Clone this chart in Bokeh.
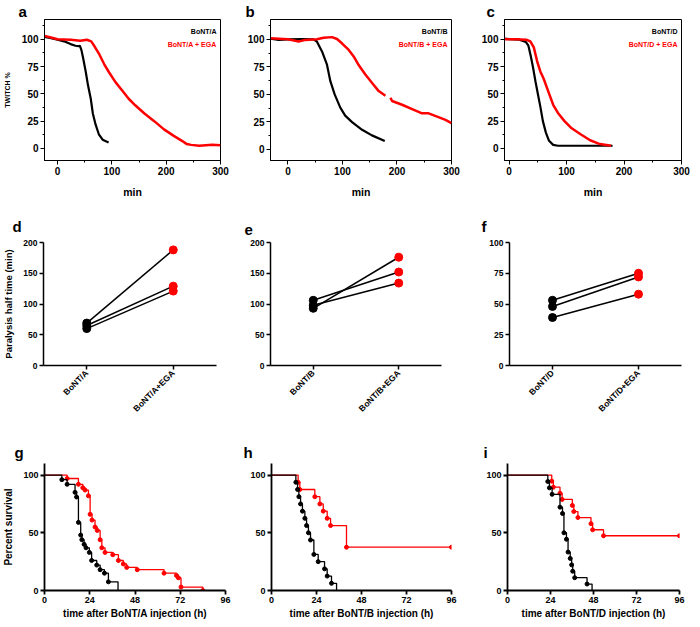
import math
from bokeh.plotting import figure
from bokeh.layouts import column, row
from bokeh.models import Range1d, FactorRange, SingleIntervalTicker, FixedTicker, Label, Title
from bokeh.embed import file_html
from bokeh.resources import INLINE

FONT = "Liberation Sans"
RED = "#ff0000"
BLACK = "#000000"
NaN = float("nan")

# ---------------- Row 1: twitch % vs time (min) ----------------
a_black_t = [-24, -12, 0, 12, 24, 33, 39, 41, 44, 47, 52, 56, 61, 65, 70, 76, 83, 94]
a_black_y = [102, 101, 99.5, 98, 95.5, 94, 93.5, 94, 90, 83, 70, 58, 46, 32, 22, 13, 8, 5.5]
a_red_t = [-24, -12, 0, 24, 42, 54, 62, 68, 77, 86, 95, 107, 119, 131, 143, 160, 178, 196, 214, 229, 238, 246, 261, 285, 300]
a_red_y = [103, 101.5, 100, 99.5, 98.5, 99.5, 98, 93.5, 86, 77, 69.5, 60.5, 53, 45.5, 39.5, 32, 25, 17.5, 11.5, 7, 4, 3.3, 2.5, 3.3, 3]

b_black_t = [-32, -17, 0, 26, 47, 53, 62.5, 71.6, 77.8, 85.7, 96, 105, 117.6, 136, 154, 177.6]
b_black_y = [100.5, 99.5, 100, 100.3, 100, 98, 89, 77, 62, 50, 38, 30.7, 24.8, 17.9, 12.8, 7.8]
b_red_t = [-32, 0, 19.6, 32, 53, 65.5, 80.8, 90, 99, 111.5, 120.6, 130, 142, 154, 166.5, 178.8, NaN,
           188, 191, 209.4, 227.8, 246, 258, 273.7, 289, 300]
b_red_y = [101, 100, 98, 99.5, 100, 101.5, 102, 100.3, 96.4, 90.4, 84.5, 76.4, 68, 60.6, 53, 48.7, NaN,
           47, 44, 40.6, 36.7, 32.8, 32.8, 29.9, 26.9, 24]

c_black_t = [-8, 0, 18, 29, 33.6, 37.5, 41.5, 46, 50.4, 54.3, 58.8, 64, 69.5, 76.7, 85, 120, 150, 180]
c_black_y = [100.5, 100, 99.5, 97.5, 94, 85, 74.5, 61, 49, 38.5, 25, 14.5, 7, 3.3, 2.5, 2.5, 2.5, 2.5]
c_red_t = [-8, 12, 30, 37, 43, 48.7, 54.3, 60, 68.3, 76.7, 85, 96.4, 107.6, 124.4, 141, 158, 177.6]
c_red_y = [100, 100, 99.5, 98, 92.5, 80, 70.5, 64, 52, 40, 32.5, 25, 19, 13, 7.5, 4, 2.5]

# ---------------- Row 2: paralysis half time (min) ----------------
d_cats = ["BoNT/A", "BoNT/A+EGA"]
d_before = [69, 65, 60]
d_after = [188, 129, 121]
e_cats = ["BoNT/B", "BoNT/B+EGA"]
e_before = [93, 106, 98]
e_after = [176, 152, 134]
f_cats = ["BoNT/D", "BoNT/D+EGA"]
f_before = [53, 48, 39]
f_after = [75, 72, 58]

# ---------------- Row 3: survival (%) vs time (h) ----------------
g_black_t = [0, 9.2, 12, 16.2, 17, 18, 19.2, 19.8, 21, 22, 23.8, 25, 27.7, 29.5, 31.8, 33.9, 39]
g_black_s = [100, 96, 92, 85, 81, 59, 48, 44, 40, 37, 33, 26, 22, 18, 15, 7.5, 0]
g_red_t = [0, 12, 18, 20.3, 21.5, 23.3, 24.2, 25.2, 26.8, 28, 29.5, 30.4, 32.1, 36.2, 39.2, 41.8, 43.6, 49.2, 63.4, 70, 71, 72.4, 84]
g_red_s = [100, 97, 92, 89, 87, 82, 66, 61, 55, 52, 44, 37, 33, 31, 26, 23, 20, 18, 15, 13, 11, 3, 0]

h_black_t = [0, 13, 13.9, 14.6, 15.5, 16.5, 17.8, 18.7, 19.7, 20.8, 22.6, 24.9, 28.3, 29.7, 32, 34.7]
h_black_s = [100, 93.75, 87.5, 81.25, 75, 68.75, 62.5, 56.25, 50, 43.75, 31.25, 25, 18.75, 12.5, 6.25, 0]
h_red_t = [0, 14.2, 15.1, 23.1, 25.8, 27.6, 29.7, 31.5, 40, 96]
h_red_s = [100, 93.75, 87.5, 81.25, 75, 68.75, 62.5, 56.25, 37.5, 37.5]

i_black_t = [0, 22.5, 23.4, 24.9, 29.3, 30.7, 31.5, 32.9, 33.8, 35, 35.8, 36.4, 37.5, 44.4, 47.2]
i_black_s = [100, 94.4, 88.9, 83.3, 72.2, 66.7, 50, 44.4, 33.3, 27.8, 22.2, 16.7, 11.1, 5.6, 0]
i_red_t = [0, 24.7, 25.6, 29.3, 30.5, 36.2, 37, 39.3, 46.6, 47.5, 53.6, 96]
i_red_s = [100, 94.7, 89.5, 84.2, 78.9, 73.7, 68.4, 63.2, 57.9, 52.6, 47.4, 47.4]


def make_fig(fw, fh, bl, br, bt, bb, xr, yr, letter, dx, standoff):
    p = figure(frame_width=fw, frame_height=fh, min_border_left=bl, min_border_right=br,
               min_border_top=bt, min_border_bottom=bb, x_range=xr, y_range=yr,
               output_backend="svg", toolbar_location=None)
    p.grid.visible = False
    p.border_fill_color = "white"
    p.background_fill_color = "white"
    p.title.visible = False
    p.add_layout(Title(text=letter, align="left", offset=dx, standoff=standoff,
                       text_font=FONT, text_font_style="bold", text_font_size="15px",
                       text_color="black", text_line_height=1.0), "above")
    return p


def style_axis(ax, size, tick_out=4, minor_out=0, lw=1.0):
    ax.major_label_text_font = FONT
    ax.major_label_text_font_style = "bold"
    ax.major_label_text_font_size = size
    ax.major_label_text_color = "black"
    ax.axis_line_color = "black"
    ax.axis_line_width = lw
    ax.major_tick_line_color = "black"
    ax.major_tick_line_width = lw
    ax.major_tick_out = tick_out
    ax.major_tick_in = 0
    ax.minor_tick_out = minor_out
    ax.minor_tick_in = 0
    ax.minor_tick_line_color = "black" if minor_out else None
    ax.minor_tick_line_width = lw
    ax.major_label_standoff = 2
    ax.axis_label_text_font = FONT
    ax.axis_label_text_font_style = "bold"
    ax.axis_label_text_color = "black"


def twitch_panel(tag, dx, fw, bl, br, xr, yr, bt, by, rt, ry, lab1, lab2, ylabel=None):
    p = make_fig(fw, 141, bl, br, 17, 39, Range1d(*xr), Range1d(*yr), tag, dx, 0)
    p.outline_line_color = "black"
    p.outline_line_width = 1
    p.xaxis.ticker = SingleIntervalTicker(interval=100, num_minor_ticks=2)
    p.yaxis.ticker = SingleIntervalTicker(interval=25, num_minor_ticks=2)
    style_axis(p.xaxis[0], "10px", tick_out=4, minor_out=2)
    style_axis(p.yaxis[0], "10px", tick_out=4, minor_out=2)
    p.xaxis.axis_label = "min"
    p.xaxis.axis_label_text_font_size = "10.5px"
    p.xaxis.axis_label_standoff = 8
    if ylabel:
        p.yaxis.axis_label = ylabel
        p.yaxis.axis_label_text_font_size = "7px"
        p.yaxis.axis_label_standoff = 8
    p.line(bt, by, color=BLACK, line_width=2.2)
    p.line(rt, ry, color=RED, line_width=2.5)
    p.add_layout(Label(x=fw - 4, y=141 - 12, x_units="screen", y_units="screen", text=lab1,
                       text_font=FONT, text_font_style="bold", text_font_size="7px",
                       text_align="right", text_baseline="alphabetic", text_color=BLACK))
    p.add_layout(Label(x=fw - 4, y=141 - 25, x_units="screen", y_units="screen", text=lab2,
                       text_font=FONT, text_font_style="bold", text_font_size="7px",
                       text_align="right", text_baseline="alphabetic", text_color=RED))
    return p


pa = twitch_panel("a", -26, 176, 38, 14, (-24, 300), (-11, 118), a_black_t, a_black_y, a_red_t, a_red_y,
                  "BoNT/A", "BoNT/A + EGA", ylabel="TWITCH %")
pb = twitch_panel("b", -25, 181, 36, 13, (-32, 300), (-10, 118), b_black_t, b_black_y, b_red_t, b_red_y,
                  "BoNT/B", "BoNT/B + EGA")
pc = twitch_panel("c", -18, 177, 40, 9, (-8, 300), (-11, 118), c_black_t, c_black_y, c_red_t, c_red_y,
                  "BoNT/D", "BoNT/D + EGA")


def half_panel(tag, dx, cats, before, after, fw, bl, br, ymax, step, ylabel=None):
    p = make_fig(fw, 123, bl, br, 42, 50, FactorRange(factors=cats, range_padding=0), Range1d(0, ymax),
                 tag, dx, 16)
    p.outline_line_color = None
    p.yaxis.ticker = FixedTicker(ticks=list(range(0, ymax + 1, step)))
    style_axis(p.xaxis[0], "8.5px", tick_out=4, lw=1.5)
    style_axis(p.yaxis[0], "8.5px", tick_out=4, lw=1.5)
    p.xaxis.major_label_orientation = math.pi / 4
    if ylabel:
        p.yaxis.axis_label = ylabel
        p.yaxis.axis_label_text_font_size = "9.5px"
        p.yaxis.axis_label_standoff = 6
    n = len(before)
    p.segment(x0=[cats[0]] * n, y0=before, x1=[cats[1]] * n, y1=after, color=BLACK, line_width=1.5)
    p.scatter([cats[0]] * n, before, size=8, color=BLACK)
    p.scatter([cats[1]] * n, after, size=8, color=RED)
    return p


pd_ = half_panel("d", -31, d_cats, d_before, d_after, 173, 41, 14, 200, 50, ylabel="Paralysis half time (min)")
pe = half_panel("e", -26, e_cats, e_before, e_after, 171, 40, 19, 200, 50)
pf = half_panel("f", -28, f_cats, f_before, f_after, 172, 49, 5, 100, 25)


def surv_panel(tag, dx, bt, bs, rt, rs, fw, bl, br, xlabel, ylabel=None):
    p = make_fig(fw, 127, bl, br, 43, 29, Range1d(0, 96), Range1d(0, 110), tag, dx, 5)
    p.outline_line_color = None
    p.xaxis.ticker = FixedTicker(ticks=[0, 24, 48, 72, 96])
    p.yaxis.ticker = FixedTicker(ticks=[0, 50, 100])
    style_axis(p.xaxis[0], "9px", tick_out=4, lw=1.8)
    style_axis(p.yaxis[0], "9px", tick_out=4, lw=1.8)
    p.xaxis.axis_label = xlabel
    p.xaxis.axis_label_text_font_size = "10px"
    p.xaxis.axis_label_standoff = 2
    if ylabel:
        p.yaxis.axis_label = ylabel
        p.yaxis.axis_label_text_font_size = "10px"
        p.yaxis.axis_label_standoff = 6
    p.step(rt, rs, mode="after", color=RED, line_width=1.3)
    p.scatter(rt[1:], rs[1:], size=4, color=RED)
    p.step(bt, bs, mode="after", color=BLACK, line_width=1.3)
    p.scatter(bt[1:-1], bs[1:-1], size=4, color=BLACK)
    return p


pg = surv_panel("g", -30, g_black_t, g_black_s, g_red_t, g_red_s, 181, 43, 8,
                "time after BoNT/A injection (h)", ylabel="Percent survival")
ph = surv_panel("h", -28, h_black_t, h_black_s, h_red_t, h_red_s, 180, 38, 8, "time after BoNT/B injection (h)")
pi_ = surv_panel("i", -24, i_black_t, i_black_s, i_red_t, i_red_s, 172, 48, 6, "time after BoNT/D injection (h)")

layout = column(row(pa, pb, pc), row(pd_, pe, pf), row(pg, ph, pi_))
open("out.html", "w").write(file_html(layout, INLINE))
